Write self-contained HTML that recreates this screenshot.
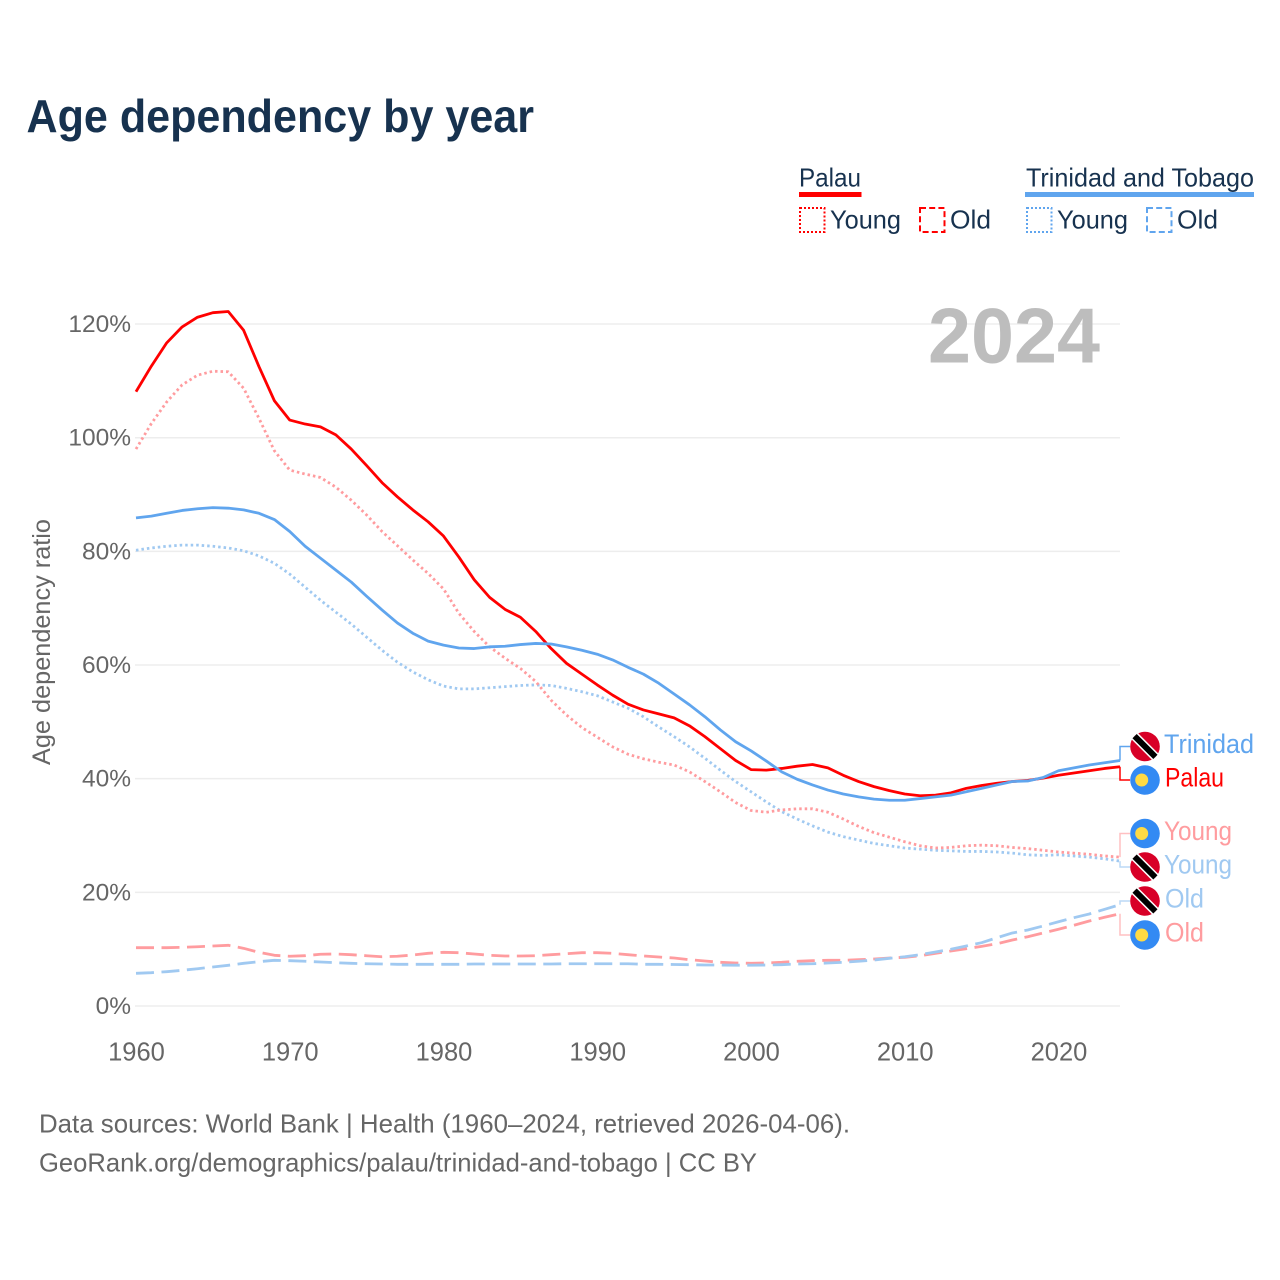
<!DOCTYPE html>
<html lang="en">
<head>
<meta charset="utf-8">
<title>Age dependency by year</title>
<style>
html,body{margin:0;padding:0;background:#fff;}
svg{display:block;font-family:"Liberation Sans",sans-serif;}
</style>
</head>
<body>
<svg id="chart" xmlns="http://www.w3.org/2000/svg" width="1280" height="1280" viewBox="0 0 1280 1280">
  <rect x="0" y="0" width="1280" height="1280" fill="#fff"/>
  <text x="26.5" y="132" font-size="46" font-weight="700" fill="#17324f" textLength="507.5" lengthAdjust="spacingAndGlyphs">Age dependency by year</text>

  <g>
    <text x="799" y="186.5" font-size="26" fill="#17324f" textLength="62" lengthAdjust="spacingAndGlyphs">Palau</text>
    <rect x="799" y="192" width="62.5" height="5" fill="#ff0000"/>
    <rect x="800" y="208" width="24.5" height="24" fill="none" stroke="#ff0000" stroke-width="2" stroke-dasharray="2 2"/>
    <text x="830" y="228.5" font-size="26" fill="#17324f" textLength="71" lengthAdjust="spacingAndGlyphs">Young</text>
    <rect x="920" y="208" width="24.5" height="24" fill="none" stroke="#ff0000" stroke-width="2" stroke-dasharray="6 3.2"/>
    <text x="950" y="228.5" font-size="26" fill="#17324f" textLength="41" lengthAdjust="spacingAndGlyphs">Old</text>
    <text x="1026" y="186.5" font-size="26" fill="#17324f" textLength="228" lengthAdjust="spacingAndGlyphs">Trinidad and Tobago</text>
    <rect x="1025" y="192" width="229" height="5" fill="#60a5ee"/>
    <rect x="1027" y="208" width="24.5" height="24" fill="none" stroke="#60a5ee" stroke-width="2" stroke-dasharray="2 2"/>
    <text x="1057" y="228.5" font-size="26" fill="#17324f" textLength="71" lengthAdjust="spacingAndGlyphs">Young</text>
    <rect x="1147" y="208" width="24.5" height="24" fill="none" stroke="#60a5ee" stroke-width="2" stroke-dasharray="6 3.2"/>
    <text x="1177" y="228.5" font-size="26" fill="#17324f" textLength="41" lengthAdjust="spacingAndGlyphs">Old</text>
  </g>

  <text transform="translate(50,765) rotate(-90)" x="0" y="0" font-size="25" fill="#666" textLength="246" lengthAdjust="spacingAndGlyphs">Age dependency ratio</text>
  <g id="grid"></g>
  <g id="yticks"></g>
  <g id="xticks"></g>
  <text x="928" y="362.5" font-size="78" font-weight="700" fill="#bdbdbd" textLength="172" lengthAdjust="spacingAndGlyphs">2024</text>
  <g id="series"></g>
  <g id="labels"></g>

  <text x="39" y="1132.5" font-size="26" fill="#666" textLength="811" lengthAdjust="spacingAndGlyphs">Data sources: World Bank | Health (1960–2024, retrieved 2026-04-06).</text>
  <text x="39" y="1171.5" font-size="26" fill="#666" textLength="718" lengthAdjust="spacingAndGlyphs">GeoRank.org/demographics/palau/trinidad-and-tobago | CC BY</text>
</svg>
<script>
const firstYear = 1960;
const xTickYears = [1960, 1970, 1980, 1990, 2000, 2010, 2020];
const yTickValues = [0, 20, 40, 60, 80, 100, 120];
const yTickLabels = ['0%', '20%', '40%', '60%', '80%', '100%', '120%'];

const palauTotal = [
  108.1,112.6,116.7,119.5,121.2,122.0,122.2,118.9,112.5,106.5,
  103.1,102.4,101.9,100.5,98.0,95.1,92.1,89.6,87.3,85.2,
  82.7,79.0,75.0,71.9,69.8,68.4,65.9,62.9,60.3,58.4,
  56.5,54.7,53.1,52.1,51.4,50.7,49.3,47.4,45.3,43.2,
  41.6,41.5,41.8,42.2,42.5,41.9,40.6,39.5,38.6,37.9,
  37.3,37.0,37.1,37.5,38.3,38.8,39.2,39.5,39.7,40.1,
  40.6,41.0,41.4,41.8,42.1
];
const trinidadTotal = [
  85.9,86.2,86.7,87.2,87.5,87.7,87.6,87.3,86.7,85.6,
  83.5,80.9,78.8,76.7,74.6,72.1,69.7,67.4,65.6,64.2,
  63.5,63.0,62.9,63.2,63.3,63.6,63.8,63.7,63.2,62.6,
  61.9,60.9,59.6,58.4,56.8,54.9,53.0,50.9,48.6,46.5,
  44.9,43.1,41.2,39.9,38.9,38.0,37.3,36.8,36.4,36.2,
  36.2,36.5,36.8,37.1,37.7,38.3,38.9,39.5,39.6,40.2,
  41.4,41.9,42.4,42.8,43.2
];
const palauYoung = [
  98.0,102.5,106.3,109.3,111.0,111.7,111.6,108.7,103.4,97.7,
  94.3,93.6,93.0,91.3,89.0,86.4,83.5,81.0,78.5,76.1,
  73.4,69.1,65.9,63.2,61.2,59.4,57.1,53.8,51.2,49.0,
  47.3,45.6,44.3,43.5,42.9,42.4,41.2,39.5,37.7,35.8,
  34.4,34.1,34.5,34.7,34.7,34.1,32.9,31.6,30.5,29.7,
  28.9,28.2,27.8,27.9,28.2,28.3,28.2,27.9,27.7,27.4,
  27.1,26.9,26.7,26.4,26.2
];
const trinidadYoung = [
  80.2,80.6,80.9,81.1,81.1,80.9,80.6,80.1,79.2,77.9,
  76.0,73.7,71.4,69.3,67.2,64.9,62.6,60.5,58.8,57.4,
  56.3,55.8,55.8,56.0,56.2,56.4,56.5,56.4,55.9,55.3,
  54.6,53.5,52.4,50.9,49.1,47.4,45.6,43.6,41.5,39.5,
  37.7,35.9,34.2,32.9,31.7,30.6,29.8,29.2,28.6,28.2,
  27.8,27.6,27.4,27.3,27.2,27.2,27.1,26.9,26.6,26.5,
  26.6,26.4,26.2,25.9,25.5
];
const palauOld = [
  10.26,10.26,10.26,10.33,10.43,10.56,10.68,10.15,9.45,8.92,
  8.75,8.85,9.10,9.15,9.03,8.85,8.67,8.75,8.97,9.27,
  9.45,9.38,9.15,8.92,8.80,8.80,8.85,9.03,9.20,9.38,
  9.38,9.27,9.03,8.80,8.62,8.45,8.15,7.92,7.69,7.57,
  7.51,7.57,7.69,7.87,7.97,8.04,8.04,8.15,8.27,8.45,
  8.57,8.85,9.27,9.68,10.08,10.50,10.96,11.61,12.19,12.85,
  13.50,14.20,14.96,15.61,16.24
];
const trinidadOld = [
  5.75,5.86,6.04,6.28,6.56,6.86,7.16,7.51,7.80,8.04,
  7.97,7.87,7.74,7.62,7.51,7.44,7.39,7.34,7.34,7.34,
  7.34,7.34,7.39,7.39,7.39,7.39,7.39,7.39,7.44,7.44,
  7.44,7.44,7.44,7.34,7.34,7.30,7.27,7.21,7.21,7.18,
  7.18,7.21,7.27,7.39,7.44,7.57,7.69,7.87,8.09,8.39,
  8.67,9.03,9.50,9.98,10.56,11.14,12.02,12.85,13.37,14.08,
  14.83,15.54,16.19,17.02,17.82
];

const NS = 'http://www.w3.org/2000/svg';
function xScale(year) { return 136 + (year - 1960) * 15.375; }
function yScale(v) { return 1006 - v * 5.683; }
function mk(tag, attrs, parent, text) {
  const el = document.createElementNS(NS, tag);
  for (const k in attrs) el.setAttribute(k, attrs[k]);
  if (text !== undefined) el.textContent = text;
  parent.appendChild(el);
  return el;
}

const gridG = document.getElementById('grid');
const yG = document.getElementById('yticks');
yTickValues.forEach(function (v, i) {
  const line = mk('line', {x1: 135, x2: 1120, y1: yScale(v), y2: yScale(v), stroke: '#ededed', 'stroke-width': 1.5}, gridG);
  
  
  const t = mk('text', {x: 131, y: yScale(v) + 8, 'text-anchor': 'end', 'font-size': 24.5, fill: '#666'}, yG, yTickLabels[i]);
  
  
});

const xG = document.getElementById('xticks');
xTickYears.forEach(function (yr) {
  const t = mk('text', {x: xScale(yr) + 0.5, y: 1060.5, 'text-anchor': 'middle', 'font-size': 25.5, fill: '#666'}, xG, String(yr));
  
  
});

function pointsOf(values) {
  return values.map(function (v, i) {
    return xScale(firstYear + i).toFixed(2) + ',' + yScale(v).toFixed(2);
  }).join(' ');
}
const seriesG = document.getElementById('series');
function drawSeries(values, color, dash, name) {
  const p = mk('polyline', {points: pointsOf(values), fill: 'none', stroke: color, 'stroke-width': 2.8, 'stroke-linejoin': 'round'}, seriesG);
  if (dash) p.setAttribute('stroke-dasharray', dash);
  
  
}
const LIGHT_RED = '#ff9c9f';
const LIGHT_BLUE = '#a0c9f1';
drawSeries(palauOld, LIGHT_RED, '18 7.5', 'palau-old-line');
drawSeries(trinidadOld, LIGHT_BLUE, '18 7.5', 'trinidad-old-line');
drawSeries(trinidadYoung, LIGHT_BLUE, '2.5 3', 'trinidad-young-line');
drawSeries(palauYoung, LIGHT_RED, '2.5 3', 'palau-young-line');
drawSeries(palauTotal, '#ff0000', null, 'palau-total-line');
drawSeries(trinidadTotal, '#60a5ee', null, 'trinidad-total-line');

const labelsG = document.getElementById('labels');
function flag(kind, cy, parent) {
  const g = mk('g', {}, parent);
  if (kind === 'trinidad') {
    
    
    mk('circle', {cx: 1145, cy: cy, r: 14.8, fill: '#d80027'}, g);
    mk('line', {x1: 1134.6, y1: cy - 10.4, x2: 1155.4, y2: cy + 10.4, stroke: '#fff', 'stroke-width': 9}, g);
    mk('line', {x1: 1134.6, y1: cy - 10.4, x2: 1155.4, y2: cy + 10.4, stroke: '#000', 'stroke-width': 6}, g);
  } else {
    
    
    mk('circle', {cx: 1145, cy: cy, r: 14.8, fill: '#338af3'}, g);
    mk('circle', {cx: 1141.7, cy: cy, r: 6.5, fill: '#ffda44'}, g);
  }
}
function endLabel(values, cy, kind, text, color, connColor, textX, width, name) {
  const yEnd = yScale(values[values.length - 1]);
  const c = mk('polyline', {points: '1120,' + yEnd.toFixed(2) + ' 1120,' + cy + ' 1130,' + cy, fill: 'none', stroke: connColor, 'stroke-width': 1.5}, labelsG);
  
  
  flag(kind, cy, labelsG);
  const t = mk('text', {x: textX, y: cy + 6.5, 'font-size': 26.5, fill: color, textLength: width, lengthAdjust: 'spacingAndGlyphs'}, labelsG, text);
  
  
}
endLabel(trinidadTotal, 746.5, 'trinidad', 'Trinidad', '#60a5ee', '#60a5ee', 1164, 90, 'trinidad-total');
endLabel(palauTotal, 780, 'palau', 'Palau', '#ff0000', '#ff0000', 1165, 59, 'palau-total');
endLabel(palauYoung, 833.5, 'palau', 'Young', LIGHT_RED, '#ffc0c2', 1164, 68, 'palau-young');
endLabel(trinidadYoung, 867, 'trinidad', 'Young', LIGHT_BLUE, '#bcd9f5', 1164, 68, 'trinidad-young');
endLabel(trinidadOld, 901, 'trinidad', 'Old', LIGHT_BLUE, '#bcd9f5', 1165, 39, 'trinidad-old');
endLabel(palauOld, 935, 'palau', 'Old', LIGHT_RED, '#ffc0c2', 1165, 39, 'palau-old');
</script>
</body>
</html>
